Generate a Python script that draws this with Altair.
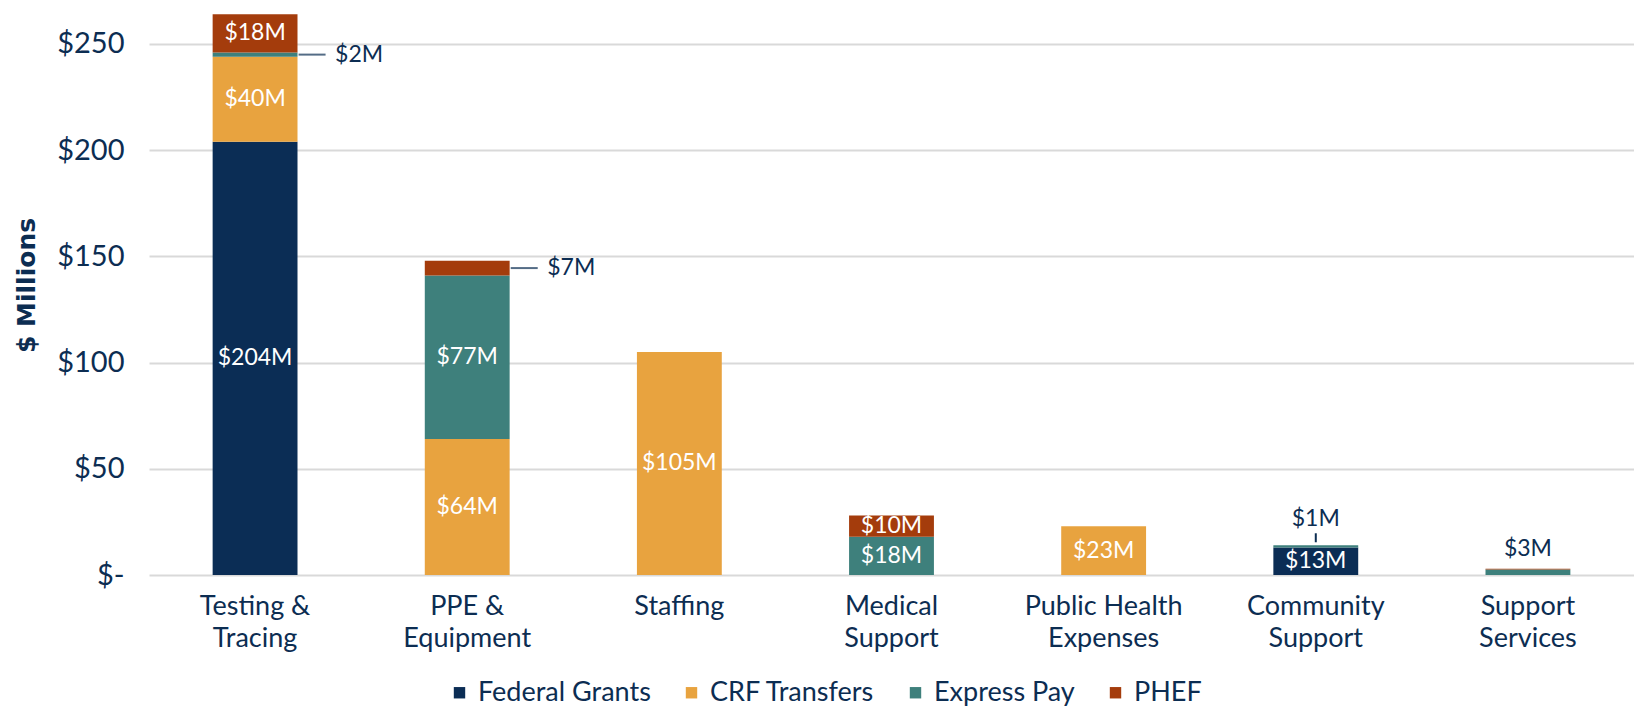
import altair as alt
import pandas as pd

categories = ["Testing &\nTracing", "PPE &\nEquipment", "Staffing", "Medical\nSupport",
              "Public Health\nExpenses", "Community\nSupport", "Support\nServices"]
series = ["Federal Grants", "CRF Transfers", "Express Pay", "PHEF"]
colors = ["#0B2D55", "#E8A33F", "#3E807C", "#A43C0C"]

federal = [204, 0, 0, 0, 0, 13, 0]
crf = [40, 64, 105, 0, 23, 0, 0]
express = [2, 77, 0, 18, 0, 1, 2.6]
phef = [18, 7, 0, 10, 0, 0, 0.4]

federal_labels = ["$204M", "", "", "", "", "$13M", ""]
crf_labels = ["$40M", "$64M", "$105M", "", "$23M", "", ""]
express_labels = ["$2M", "$77M", "", "$18M", "", "$1M", "$3M"]
phef_labels = ["$18M", "$7M", "", "$10M", "", "", ""]

federal_pos = ["in", "", "", "", "", "in", ""]
crf_pos = ["in", "in", "in", "", "in", "", ""]
express_pos = ["right", "in", "", "in", "", "lead", "top"]
phef_pos = ["in", "right", "", "in", "", "", ""]

values = [federal, crf, express, phef]
labels = [federal_labels, crf_labels, express_labels, phef_labels]
positions = [federal_pos, crf_pos, express_pos, phef_pos]

rows = []
for si, name in enumerate(series):
    for ci, cat in enumerate(categories):
        rows.append(dict(category=cat, series=name, order=si, value=values[si][ci],
                         label=labels[si][ci], pos=positions[si][ci]))
df = pd.DataFrame(rows)

navy = "#0C2D52"
FONT = "Lato"

yscale = alt.Scale(domain=[0, 266], nice=False)
yaxis = alt.Axis(values=[0, 50, 100, 150, 200, 250],
                 labelExpr="datum.value == 0 ? '$-' : '$' + datum.value",
                 labelFont=FONT, labelFontSize=29, labelColor=navy, labelPadding=25,
                 ticks=False, domain=False, grid=True, gridColor="#D9D9D9", gridWidth=2,
                 title="$ Millions", titleFont="DejaVu Sans", titleFontWeight="bold",
                 titleFontSize=25, titleColor=navy, titleX=-123, titleY=275, titleAngle=270,
                 titleAlign="center", titleBaseline="middle")

X = alt.X("category:N", sort=categories,
          scale=alt.Scale(paddingInner=0.6, paddingOuter=0.3),
          axis=alt.Axis(title=None, labelExpr="split(datum.label, '\\n')", labelFont=FONT,
                        labelFontSize=27, labelColor=navy, labelPadding=18,
                        labelLineHeight=32, ticks=False, domain=False, labelAngle=0))


def Y(field):
    return alt.Y(field, scale=yscale, axis=yaxis, title="$ Millions")


base = alt.Chart(df).transform_stack(
    stack="value", groupby=["category"], as_=["y0", "y1"],
    sort=[alt.SortField("order", order="ascending")]
).transform_calculate(mid="(datum.y0 + datum.y1) / 2")

bars = base.transform_filter("datum.value > 0").mark_bar().encode(
    x=X, y=Y("y0:Q"), y2="y1:Q",
    color=alt.Color("series:N", scale=alt.Scale(domain=series, range=colors),
                    legend=alt.Legend(title=None, orient="none", legendX=297, legendY=669,
                                      direction="horizontal", columns=4, symbolType="square",
                                      symbolSize=130, symbolStrokeWidth=0, labelFont=FONT,
                                      labelFontSize=27, labelColor=navy, columnPadding=27,
                                      labelOffset=5, labelLimit=0, padding=0)),
    order=alt.Order("order:Q"),
)

LBL = 23

inside = base.transform_filter("datum.pos == 'in'").mark_text(
    color="white", font=FONT, fontSize=LBL).encode(x=X, y=Y("mid:Q"), text="label:N")

right_text = base.transform_filter("datum.pos == 'right'").mark_text(
    color=navy, font=FONT, fontSize=LBL, align="left", dx=80).encode(
    x=X, y=Y("mid:Q"), text="label:N")

right_tick = base.transform_filter("datum.pos == 'right'").mark_tick(
    color=navy, size=27, thickness=2, xOffset=57).encode(x=X, y=Y("mid:Q"))

lead_rule = base.transform_filter("datum.pos == 'lead'").mark_rule(
    color=navy, strokeWidth=2, yOffset=-3, y2Offset=-12).encode(x=X, y=Y("y1:Q"), y2="y1:Q")

lead_text = base.transform_filter("datum.pos == 'lead'").mark_text(
    color=navy, font=FONT, fontSize=LBL, dy=-26).encode(x=X, y=Y("y1:Q"), text="label:N")

top_text = base.transform_filter("datum.pos == 'top'").mark_text(
    color=navy, font=FONT, fontSize=LBL, dy=-20).encode(x=X, y=Y("y1:Q"), text="label:N")

chart = alt.layer(bars, inside, right_tick, right_text, lead_rule, lead_text, top_text).properties(
    width=1485, height=565,
    autosize=alt.AutoSizeParams(type="none"),
    padding={"left": 141, "top": 2, "right": 0, "bottom": 133},
).configure_view(stroke=None)

chart.save("out.html", embed_options={"renderer": "svg", "actions": False})
